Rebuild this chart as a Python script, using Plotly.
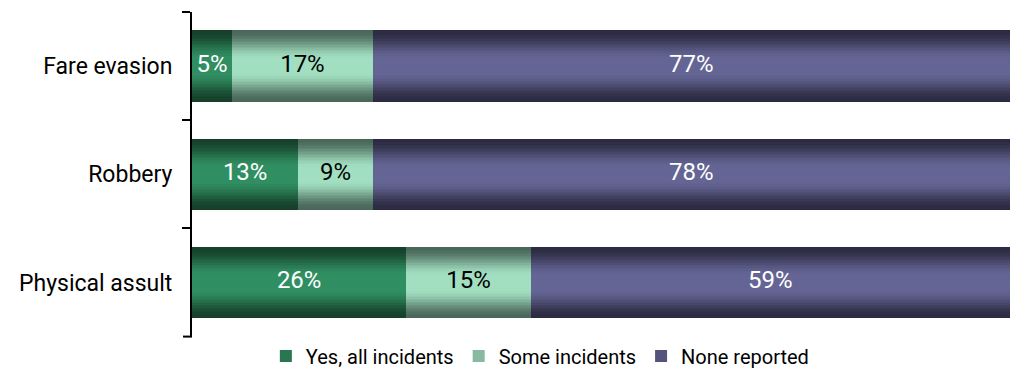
import plotly.graph_objects as go

categories = ["Fare evasion", "Robbery", "Physical assult"]
series_names = ["Yes, all incidents", "Some incidents", "None reported"]
# bar lengths (%)
yes_all = [4.9, 13.0, 26.2]
some = [17.2, 9.1, 15.2]
none_rep = [77.9, 77.9, 58.6]
# labels as printed on the chart
yes_all_labels = ["5%", "13%", "26%"]
some_labels = ["17%", "9%", "15%"]
none_labels = ["77%", "78%", "59%"]
label_colors = ["white", "black", "white"]

series_values = [yes_all, some, none_rep]
series_labels = [yes_all_labels, some_labels, none_labels]
edge_colors = [(22, 64, 42), (74, 104, 90), (44, 43, 66)]
center_colors = [(48, 143, 98), (162, 223, 193), (101, 101, 149)]

FONT = "Roboto, Liberation Sans, sans-serif"
BAR_W = 0.66
N_LAYERS = 20

fig = go.Figure()

bases = [[0] * len(categories)]
for vals in series_values[:-1]:
    bases.append([b + v for b, v in zip(bases[-1], vals)])

for s, (name, vals) in enumerate(zip(series_names, series_values)):
    base = bases[s]
    e, c = edge_colors[s], center_colors[s]
    for i in range(N_LAYERS):
        t = i / (N_LAYERS - 1)
        f = t * t * (3 - 2 * t)
        col = tuple(round(e[k] + (c[k] - e[k]) * f) for k in range(3))
        w = BAR_W * (1 - 0.8 * t)
        fig.add_trace(go.Bar(
            y=categories, x=vals, base=base, orientation="h",
            width=w, name=name,
            marker=dict(color="rgb(%d,%d,%d)" % col, line=dict(width=0)),
            showlegend=(i == int(N_LAYERS * 0.6)), legendgroup=name,
            hoverinfo="skip",
        ))
    fig.add_trace(go.Scatter(
        y=categories, x=[b + v / 2 for b, v in zip(base, vals)],
        mode="text", text=series_labels[s],
        textfont=dict(family=FONT, size=24, color=label_colors[s]),
        showlegend=False, hoverinfo="skip",
    ))

# closing tick at the bottom end of the category axis
fig.add_shape(
    type="line", xref="paper", yref="paper", xsizemode="pixel", xanchor=0,
    x0=-9, x1=0, y0=0, y1=0, line=dict(color="black", width=2),
)

fig.update_layout(
    width=1010, height=369,
    margin=dict(l=192, r=0, t=12, b=31),
    barmode="overlay",
    plot_bgcolor="white", paper_bgcolor="white",
    font=dict(family=FONT, size=21, color="black"),
    xaxis=dict(range=[0, 100], visible=False, fixedrange=True),
    yaxis=dict(
        categoryorder="array", categoryarray=categories,
        range=[2.5, -0.5],
        showline=True, linecolor="black", linewidth=2,
        ticks="outside", tickson="boundaries", ticklen=8, tickwidth=2,
        tickcolor="black", showgrid=False, zeroline=False,
        tickfont=dict(family=FONT, size=23, color="black"),
        ticklabelstandoff=13,
    ),
    legend=dict(
        orientation="h", xref="container", yref="container",
        x=0.535, xanchor="center", y=0.035, yanchor="middle",
        font=dict(family=FONT, size=20, color="black"),
        itemwidth=30, traceorder="normal",
    ),
    bargap=0,
)

fig.write_html("out.html")
